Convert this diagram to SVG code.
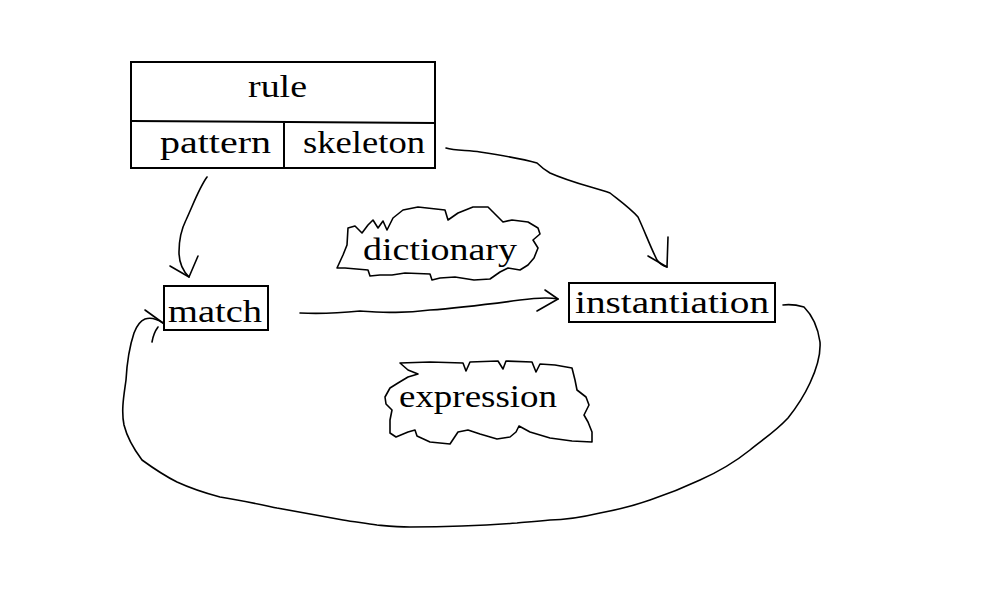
<svg xmlns="http://www.w3.org/2000/svg" width="1000" height="600" viewBox="0 0 1000 600">
<style>
.box{fill:#fff;stroke:#000;stroke-width:2}
.cloud{fill:#fff;stroke:#000;stroke-width:1.6;stroke-linejoin:round}
.lbl{font-family:"Liberation Serif","DejaVu Serif",serif;font-size:32px;fill:#000}
.ln{fill:none;stroke:#000;stroke-width:1.6;stroke-linecap:round;stroke-linejoin:round}
</style>
<rect width="1000" height="600" fill="#fff"/>
<g id="rule">
<rect class="box" x="131" y="62" width="304" height="106"/>
<path class="box" d="M131,121 L435,123 M284,122 L284,168" fill="none"/>
<text class="lbl" x="248" y="97" textLength="59" lengthAdjust="spacingAndGlyphs">rule</text>
<text class="lbl" x="160" y="153" textLength="111" lengthAdjust="spacingAndGlyphs">pattern</text>
<text class="lbl" x="303" y="153" textLength="122" lengthAdjust="spacingAndGlyphs">skeleton</text>
</g>
<g id="match">
<rect class="box" x="164" y="286" width="104" height="44"/>
<text class="lbl" x="168" y="322" textLength="94" lengthAdjust="spacingAndGlyphs">match</text>
</g>
<g id="instantiation">
<rect class="box" x="569" y="283" width="206" height="39"/>
<text class="lbl" x="575" y="313" textLength="194" lengthAdjust="spacingAndGlyphs">instantiation</text>
</g>
<g id="dictionary">
<path class="cloud" d="M337,268 L343,255 L347,245 L348,228 L355,226 L362,233 L368,225 L373,220 L378,228 L383,221 L387,230 L393,218 L403,210 L418,207 L445,210 L448,220 L458,213 L473,207 L488,207 L503,222 L512,220 L528,222 L538,228 L540,234 L533,240 L538,248 L534,258 L528,265 L520,270 L508,268 L500,272 L490,279 L474,280 L455,277 L440,278 L432,280 L430,274 L405,273 L392,275 L380,275 L370,276 L368,270 L345,268 Z"/>
<text class="lbl" x="363" y="260" textLength="154" lengthAdjust="spacingAndGlyphs">dictionary</text>
</g>
<g id="expression">
<path class="cloud" d="M400,363 L430,362 L463,363 L466,371 L470,362 L498,361 L503,369 L506,361 L532,362 L536,372 L540,364 L555,365 L572,368 L575,380 L577,390 L586,397 L589,405 L584,415 L588,422 L592,432 L592,442 L572,441 L550,438 L530,432 L519,426 L516,432 L510,437 L497,439 L480,434 L468,430 L458,432 L450,444 L430,442 L417,436 L415,430 L408,432 L396,437 L390,433 L390,420 L392,410 L386,404 L385,397 L390,388 L398,383 L408,377 L418,374 L408,370 Z"/>
<text class="lbl" x="399" y="407" textLength="158" lengthAdjust="spacingAndGlyphs">expression</text>
</g>
<g id="connectors">
<path class="ln" d="M207,177 C199,188 193,205 186,220 C180,232 179,245 179,252 C179,262 182,270 189,277"/>
<path class="ln" d="M170,266 L189,277 L198,256"/>
<path class="ln" d="M300,313 C320,314 340,313 360,311 C380,312 400,314 430,310 C460,308 490,304 520,300 C535,298 548,297 558,299"/>
<path class="ln" d="M545,290 L558,299 L537,311"/>
<path class="ln" d="M446,148 C455,151 468,150 480,152 C500,155 520,158 537,163 C542,168 545,170 550,173 C570,182 592,187 610,193 C620,201 630,208 638,217 C645,232 650,246 657,260 C660,264 663,266 667,267"/>
<path class="ln" d="M648,256 L667,267 L668,237"/>
<path class="ln" d="M783,305 C790,304 797,305 804,307 C812,315 818,328 820,342 C821,357 816,370 810,383 C803,398 796,408 788,418 C775,432 762,440 750,450 C735,462 718,472 700,480 C683,488 668,494 650,500 C633,506 616,510 600,513 C583,517 566,520 550,520 C535,522 525,522 517,523 C480,526 445,527 410,527 C397,527 388,526 377,525 C365,523 355,522 343,520 C320,516 298,512 277,508 C258,504 240,500 220,497 C205,493 190,488 177,482 C165,476 153,468 142,460 C133,448 127,437 124,425 C121,410 124,395 126,380 C127,362 130,345 134,333 C137,325 140,321 145,319 C151,317 157,319 163,323"/>
<path class="ln" d="M145,310 L163,323 M152,342 C153,336 155,331 158,327"/>
</g>
</svg>
